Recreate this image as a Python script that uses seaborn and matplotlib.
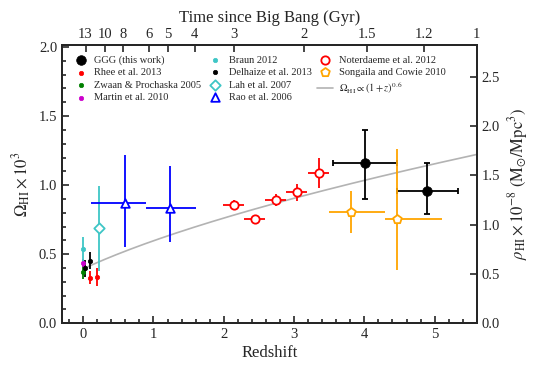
import numpy as np
import pandas as pd
import matplotlib
matplotlib.use("Agg")
import matplotlib.pyplot as plt
import seaborn as sns

# ---------------- data (Omega_HI x 10^3) ----------------
ggg_z = [4.01, 4.89]
ggg_om = [1.16, 0.96]
ggg_xlo = [0.45, 0.43]
ggg_xhi = [0.45, 0.44]
ggg_ylo = [0.26, 0.17]
ggg_yhi = [0.24, 0.20]

rhee_z = [0.10, 0.20]
rhee_om = [0.33, 0.337]
rhee_err = [0.045, 0.065]

zwaan_z = [0.0]
zwaan_om = [0.373]
zwaan_err = [0.05]

martin_z = [0.0]
martin_om = [0.434]
martin_err = [0.03]

braun_z = [0.0]
braun_om = [0.537]
braun_err = [0.09]

delh_z = [0.028, 0.096]
delh_om = [0.398, 0.453]
delh_err = [0.06, 0.06]

lah_z = [0.224]
lah_om = [0.687]
lah_err = [0.31]

rao_z = [0.59, 1.24]
rao_om = [0.87, 0.831]
rao_xlo = [0.48, 0.34]
rao_xhi = [0.31, 0.36]
rao_ylo = [0.32, 0.24]
rao_yhi = [0.35, 0.31]

not_z = [2.14, 2.44, 2.74, 3.04, 3.35]
not_om = [0.855, 0.752, 0.894, 0.947, 1.089]
not_xerr = [0.15, 0.15, 0.15, 0.15, 0.15]
not_yerr = [0.035, 0.02, 0.045, 0.065, 0.11]

song_z = [3.81, 4.46]
song_om = [0.807, 0.752]
song_xlo = [0.31, 0.16]
song_xhi = [0.49, 0.65]
song_ylo = [0.15, 0.37]
song_yhi = [0.15, 0.51]

fit_amp = 0.394
fit_index = 0.6

age_ticks = [13, 10, 8, 6, 5, 4, 3, 2, 1.5, 1.2, 1]
age_labels = ["13", "10", "8", "6", "5", "4", "3", "2", "1.5", "1.2", "1"]

# ---------------- style ----------------
sns.set_style("ticks")
plt.rcParams["font.family"] = ["Liberation Serif", "DejaVu Serif"]
plt.rcParams["mathtext.fontset"] = "stix"
plt.rcParams["axes.linewidth"] = 1.3

fig = plt.figure(figsize=(5.4, 3.75), dpi=100)
ax = fig.add_axes([0.115, 0.138, 0.768, 0.742])

XMIN, XMAX = -0.3, 5.6
YMIN, YMAX = 0.0, 2.015
RHO_FAC = 1.4

# power-law curve
zz = np.linspace(0.0, XMAX, 200)
curve = pd.DataFrame({"z": zz, "om": fit_amp * (1 + zz) ** fit_index})
sns.lineplot(data=curve, x="z", y="om", ax=ax, color="#b3b3b3", lw=1.2,
             label=r"$\Omega_{\rm HI}\propto(1+z)^{0.6}$", zorder=1)

def ebar(x, y, xerr, yerr, color, capsize=0, lw=1.3):
    ax.errorbar(x, y, xerr=xerr, yerr=yerr, fmt="none", ecolor=color,
                elinewidth=lw, capsize=capsize, capthick=lw, zorder=2)

def pts(x, y, color, marker, size, label, open_=False, z=3):
    df = pd.DataFrame({"z": x, "om": y})
    if open_:
        sns.scatterplot(data=df, x="z", y="om", ax=ax, marker=marker, s=size,
                        facecolor="white", edgecolor=color, linewidth=1.3,
                        label=label, zorder=z)
    else:
        sns.scatterplot(data=df, x="z", y="om", ax=ax, marker=marker, s=size,
                        color=color, edgecolor=color, linewidth=0.5,
                        label=label, zorder=z)

cyan = "#3ec6c6"
ebar(ggg_z, ggg_om, [ggg_xlo, ggg_xhi], [ggg_ylo, ggg_yhi], "black", capsize=2.5)
ebar(rhee_z, rhee_om, None, rhee_err, "red")
ebar(zwaan_z, zwaan_om, None, zwaan_err, "green")
ebar(martin_z, martin_om, None, martin_err, "#cc00cc")
ebar(braun_z, braun_om, None, braun_err, cyan)
ebar(delh_z, delh_om, None, delh_err, "black")
ebar(lah_z, lah_om, None, lah_err, cyan)
ebar(rao_z, rao_om, [rao_xlo, rao_xhi], [rao_ylo, rao_yhi], "blue")
ebar(not_z, not_om, not_xerr, not_yerr, "red")
ebar(song_z, song_om, [song_xlo, song_xhi], [song_ylo, song_yhi], "orange")

pts(ggg_z, ggg_om, "black", "o", 48, "GGG (this work)", z=5)
pts(rhee_z, rhee_om, "red", "o", 10, "Rhee et al. 2013")
pts(zwaan_z, zwaan_om, "green", "o", 10, "Zwaan & Prochaska 2005")
pts(martin_z, martin_om, "#cc00cc", "o", 10, "Martin et al. 2010")
pts(braun_z, braun_om, cyan, "o", 10, "Braun 2012")
pts(delh_z, delh_om, "black", "o", 10, "Delhaize et al. 2013")
pts(lah_z, lah_om, cyan, "D", 28, "Lah et al. 2007", open_=True)
pts(rao_z, rao_om, "blue", "^", 38, "Rao et al. 2006", open_=True)
pts(not_z, not_om, "red", "o", 36, "Noterdaeme et al. 2012", open_=True)
pts(song_z, song_om, "orange", "p", 42, "Songaila and Cowie 2010", open_=True)

ax.set_xlim(XMIN, XMAX)
ax.set_ylim(YMIN, YMAX)
ax.set_xlabel("Redshift", fontsize=12, labelpad=3)
ax.set_ylabel(r"$\Omega_{\rm HI}\times10^3$", fontsize=12, labelpad=4)
ax.set_xticks([0, 1, 2, 3, 4, 5])
ax.set_xticks(np.arange(-0.2, 5.61, 0.2), minor=True)
ax.set_yticks([0.0, 0.5, 1.0, 1.5, 2.0])
ax.set_yticklabels(["0.0", "0.5", "1.0", "1.5", "2.0"])
ax.set_yticks(np.arange(0, 2.01, 0.1), minor=True)
ax.tick_params(which="both", direction="in", top=False, right=False,
               labelsize=10.5, width=1.2)
ax.tick_params(which="major", length=5)
ax.tick_params(which="minor", length=3)

# legend (markers only)
handles, labels = ax.get_legend_handles_labels()
order = labels[1:] + labels[:1]
hmap = dict(zip(labels, handles))
leg = ax.legend([hmap[l] for l in order], order, loc="upper left",
                bbox_to_anchor=(0.0, 1.0), ncol=3, frameon=False, fontsize=7.5,
                handlelength=1.6, handletextpad=0.5, columnspacing=0.5,
                labelspacing=0.3, borderaxespad=0.6)

# right axis: rho_HI
axr = ax.twinx()
axr.set_ylim(YMIN * RHO_FAC, YMAX * RHO_FAC)
axr.set_yticks([0.0, 0.5, 1.0, 1.5, 2.0, 2.5])
axr.set_yticklabels(["0.0", "0.5", "1.0", "1.5", "2.0", "2.5"])
axr.set_ylabel(r"$\rho_{\rm HI}\times10^{-8}\ ({\rm M_{\odot}/Mpc^3})$",
               fontsize=12, labelpad=4)
axr.tick_params(direction="in", length=5, width=1.2, labelsize=10.5)

# top axis: age of the Universe (flat LCDM, H0=70, Om=0.3)
H0_inv = 977.8 / 70.0
Om, OL = 0.3, 0.7
def z_of_age(t):
    t = np.asarray(t, dtype=float)
    s = np.sinh(t * 1.5 * np.sqrt(OL) / H0_inv) / np.sqrt(OL / Om)
    return s ** (-2.0 / 3.0) - 1.0

axt = ax.twiny()
axt.set_xlim(XMIN, XMAX)
axt.set_xticks(z_of_age(age_ticks))
axt.set_xticklabels(age_labels)
axt.tick_params(direction="in", length=5, width=1.2, labelsize=10.5, pad=3)
axt.set_xlabel("Time since Big Bang (Gyr)", fontsize=12, labelpad=4)
for a in (ax, axr, axt):
    for sp in a.spines.values():
        sp.set_linewidth(1.3)

fig.savefig("out.png", dpi=100)
